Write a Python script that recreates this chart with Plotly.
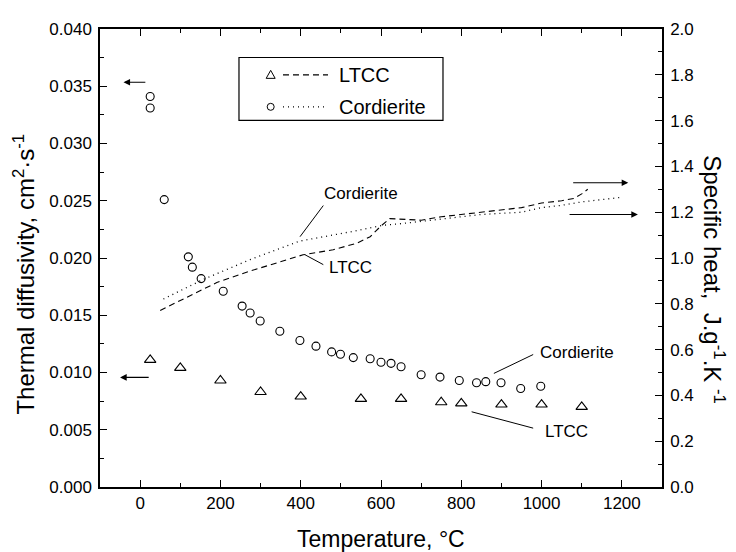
import plotly.graph_objects as go

# ---------------- data ----------------
# Thermal diffusivity (cm^2/s), left axis
T_ltcc_diff = [25, 100, 200, 300, 400, 550, 650, 750, 800, 900, 1000, 1100]
ltcc_diff = [0.0111, 0.0104, 0.0093, 0.0083, 0.0079, 0.0077, 0.0077, 0.0074,
             0.0073, 0.0072, 0.0072, 0.0070]

T_cord_diff = [25, 25, 60, 120, 130, 152, 207, 254, 274, 299, 348, 398, 438, 477,
               499, 531, 573, 600, 625, 650, 700, 747, 795, 838, 861, 899, 948, 998]
cord_diff = [0.0341, 0.0331, 0.0251, 0.0201, 0.0192, 0.0182, 0.0171, 0.0158,
             0.0152, 0.0145, 0.0136, 0.0128, 0.0123, 0.0118, 0.0116, 0.0113,
             0.0112, 0.0109, 0.0108, 0.0105, 0.0098, 0.0096, 0.0093, 0.0091,
             0.0092, 0.0091, 0.0086, 0.0088]

# Specific heat (J/g/K), right axis
T_ltcc_cp = [50, 108, 191, 274, 406, 481, 539, 573, 600, 622, 650, 700, 750, 800,
             850, 900, 950, 1000, 1050, 1080, 1100, 1115]
ltcc_cp = [0.771, 0.822, 0.893, 0.943, 1.014, 1.036, 1.064, 1.093, 1.14, 1.172,
           1.17, 1.165, 1.18, 1.19, 1.20, 1.21, 1.22, 1.24, 1.25, 1.26, 1.28, 1.30]

T_cord_cp = [58, 158, 274, 398, 523, 606, 650, 700, 750, 800, 850, 900, 950,
             1000, 1050, 1100, 1150, 1195]
cord_cp = [0.821, 0.907, 0.993, 1.074, 1.114, 1.143, 1.15, 1.16, 1.17, 1.18,
           1.19, 1.195, 1.20, 1.22, 1.23, 1.245, 1.255, 1.264]

x_ticks = [0, 200, 400, 600, 800, 1000, 1200]

FONT = "Liberation Sans, Arial, Helvetica, sans-serif"

fig = go.Figure()
fig.add_trace(go.Scatter(x=T_ltcc_cp, y=ltcc_cp, yaxis="y2", mode="lines",
                         line=dict(color="black", width=1.1, dash="6px,4px"),
                         name="LTCC cp"))
fig.add_trace(go.Scatter(x=T_cord_cp, y=cord_cp, yaxis="y2", mode="lines",
                         line=dict(color="black", width=1.3, dash="1px,4px"),
                         name="Cordierite cp"))
fig.add_trace(go.Scatter(x=T_ltcc_diff, y=ltcc_diff, mode="markers",
                         marker=dict(symbol="triangle-up-open", size=10, color="black",
                                     line=dict(width=1.1, color="black")),
                         name="LTCC"))
fig.add_trace(go.Scatter(x=T_cord_diff, y=cord_diff, mode="markers",
                         marker=dict(symbol="circle-open", size=8, color="black",
                                     line=dict(width=1.1, color="black")),
                         name="Cordierite"))

axis_common = dict(showline=True, linecolor="black", linewidth=1.5, showgrid=False,
                   zeroline=False, ticks="inside", ticklen=7, tickwidth=1.3,
                   tickcolor="black", tickfont=dict(size=17, family=FONT, color="black"))

fig.update_layout(
    width=728, height=544,
    margin=dict(l=92, r=74, t=12, b=65),
    paper_bgcolor="white", plot_bgcolor="white",
    showlegend=False,
    font=dict(family=FONT, color="black"),
    xaxis=dict(range=[-100, 1300], tickmode="array", tickvals=x_ticks,
               mirror="ticks",
               minor=dict(ticks="inside", ticklen=4, dtick=100, tick0=0,
                          tickcolor="black", tickwidth=1.3, showgrid=False),
               **axis_common),
    yaxis=dict(range=[0, 0.040], dtick=0.005, tick0=0, tickformat=".3f",
               ticklabelstandoff=3,
               minor=dict(ticks="inside", ticklen=4, dtick=0.0025, tick0=0,
                          tickcolor="black", tickwidth=1.3, showgrid=False),
               **axis_common),
    yaxis2=dict(range=[0, 2.0], dtick=0.2, tick0=0, tickformat=".1f",
                overlaying="y", side="right", ticklabelstandoff=3,
                minor=dict(ticks="inside", ticklen=4, dtick=0.1, tick0=0,
                           tickcolor="black", tickwidth=1.3, showgrid=False),
                **axis_common),
)

ann = []
# axis titles
ann.append(dict(text="Thermal diffusivity, cm<sup>2</sup>·s<sup>-1</sup>", xref="paper", yref="paper",
                x=-0.136, y=0.465, textangle=-90, showarrow=False,
                font=dict(size=24, family=FONT), xanchor="center", yanchor="middle"))
ann.append(dict(text="Specific heat,  J.g<sup>-1</sup>.K <sup>-1</sup>", xref="paper", yref="paper",
                x=1.092, y=0.452, textangle=90, showarrow=False,
                font=dict(size=24, family=FONT), xanchor="center", yanchor="middle"))
ann.append(dict(text="Temperature, °C", xref="paper", yref="paper",
                x=0.5, y=-0.1135, showarrow=False,
                font=dict(size=23, family=FONT), xanchor="center", yanchor="middle"))

# arrows indicating axes
for hx, hy, tx, yr in [(-41.5, 0.03535, 16.7, "y"), (-50, 0.00957, 25, "y"),
                       (1216, 1.3286, 1075, "y2"), (1240, 1.190, 1066, "y2")]:
    ann.append(dict(x=hx, y=hy, ax=tx, ay=hy, xref="x", yref=yr, axref="x", ayref=yr,
                    text="", showarrow=True, arrowhead=2, arrowsize=1.1, arrowwidth=1.2,
                    arrowcolor="black"))

# curve labels
lab_font = dict(size=17, family=FONT, color="black")
ann.append(dict(text="Cordierite", x=452, y=1.28, xref="x", yref="y2", showarrow=False,
                xanchor="left", yanchor="middle", font=lab_font))
ann.append(dict(text="LTCC", x=464.8, y=0.957, xref="x", yref="y2", showarrow=False,
                xanchor="left", yanchor="middle", font=lab_font))
ann.append(dict(text="Cordierite", x=991.5, y=0.01172, xref="x", yref="y", showarrow=False,
                xanchor="left", yanchor="middle", font=lab_font))
ann.append(dict(text="LTCC", x=1002.5, y=0.00486, xref="x", yref="y", showarrow=False,
                xanchor="left", yanchor="middle", font=lab_font))

# legend texts
leg_font = dict(size=20, family=FONT, color="black")
ann.append(dict(text="LTCC", x=0.4212, y=0.8999, xref="paper", yref="paper", showarrow=False,
                xanchor="left", yanchor="middle", font=leg_font))
ann.append(dict(text="Cordierite", x=0.4212, y=0.8301, xref="paper", yref="paper",
                showarrow=False, xanchor="left", yanchor="middle", font=leg_font))

shapes = []
lw = dict(color="black", width=1)
# leader lines
shapes.append(dict(type="line", xref="x", yref="y2", x0=398.3, y0=1.093, x1=456.3, y1=1.229, line=lw))
shapes.append(dict(type="line", xref="x", yref="y2", x0=410.8, y0=1.014, x1=456.3, y1=0.971, line=lw))
shapes.append(dict(type="line", xref="x", yref="y", x0=881.2, y0=0.00992, x1=979.1, y1=0.01157, line=lw))
shapes.append(dict(type="line", xref="x", yref="y", x0=825.8, y0=0.00657, x1=979.1, y1=0.00514, line=lw))
# legend box
shapes.append(dict(type="rect", xref="paper", yref="paper", x0=0.2473, x1=0.6103,
                   y0=0.8007, y1=0.9378, line=dict(color="black", width=1.2),
                   fillcolor="rgba(0,0,0,0)"))
shapes.append(dict(type="line", xref="paper", yref="paper", x0=0.3256, x1=0.4057,
                   y0=0.8999, y1=0.8999, line=dict(color="black", width=1.1, dash="6px,4px")))
shapes.append(dict(type="line", xref="paper", yref="paper", x0=0.3256, x1=0.4057,
                   y0=0.8301, y1=0.8301, line=dict(color="black", width=1.3, dash="1px,4px")))
shapes.append(dict(type="path", xref="paper", yref="paper", xsizemode="pixel", ysizemode="pixel",
                   xanchor=0.3037, yanchor=0.8999, path="M-4.5,-3.5 L4.5,-3.5 L0,4.5 Z",
                   line=dict(color="black", width=1)))
shapes.append(dict(type="circle", xref="paper", yref="paper", xsizemode="pixel", ysizemode="pixel",
                   xanchor=0.3037, yanchor=0.8301, x0=-3.5, x1=3.5, y0=-3.5, y1=3.5,
                   line=dict(color="black", width=1)))

fig.update_layout(annotations=ann, shapes=shapes)
fig.write_html("out.html")
